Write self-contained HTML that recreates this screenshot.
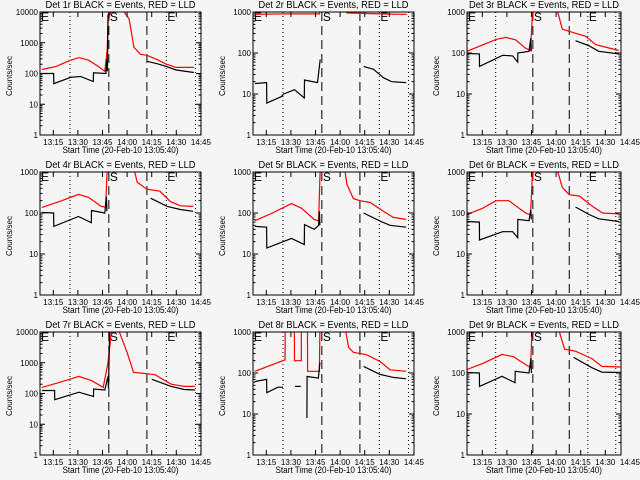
<!DOCTYPE html>
<html><head><meta charset="utf-8"><style>
html,body{margin:0;padding:0;background:#f5f5f5;}
svg{display:block;font-family:"Liberation Sans",sans-serif;}
</style></head><body>
<svg id="c" width="640" height="480" viewBox="0 0 640 480" xmlns="http://www.w3.org/2000/svg">
<rect x="0" y="0" width="640" height="480" fill="#f5f5f5"/>
</svg>
<script>
const detectorNames = ["1r","2r","3r","4r","5r","6r","7r","8r","9r"];
const yMaxValues = [10000,1000,1000,1000,1000,1000,10000,1000,1000];
const xTickLabels = ["13:15","13:30","13:45","14:00","14:15","14:30","14:45"];
const xTickMinutes = [9.33,24.33,39.33,54.33,69.33,84.33,99.33];
const dottedLineMinutes = [18.5,78,96];
const dashedLineMinutes = [42.5,66];
const red1 = [[1.2,135],[10,170],[18,260],[24,330],[30,270],[36,170],[40,118],[41.5,600],[42,4700],[43.5,10000],[49,12000],[52,10000],[55,5900],[58,720],[62,420],[66,390],[72,290],[78,200],[84,158],[95,158]];
const black1 = [[1.2,100],[8.4,100],[8.5,47],[19,75],[25,80],[32.9,55],[33,105],[40.7,100],[41.3,290],[41.6,120],[42,8000],[43.5,10000],[47,10000],null,[66,250],[72,210],[78,170],[84,130],[95,108]];
const red2 = [[1.2,880],[20,900],[41,900],[41.5,1200],null,[57,1200],[58,950],[70,920],[85,890],[95,880]];
const black2 = [[1.2,18],[8.4,19],[8.5,6],[17.4,8.6],[19,10],[25.6,12.7],[31.7,8],[31.8,22],[39.8,19],[41.5,70],null,[68.3,47],[74.4,40],[80.5,25],[85.6,20],[94.5,19]];
const red3 = [[0,110],[18.7,215],[25,240],[31.4,210],[37.8,130],[41,115],[42.4,1200],null,[58,1200],[61.5,380],[68,320],[76.6,255],[83,160],[98,115]];
const black3 = [[0,97],[8,95],[8.1,47],[23,88],[29.5,85],[32.7,60],[32.8,100],[40,110],[41.2,230],[41.5,110],null,[70,200],[78.8,150],[85,110],[98,95]];
const red4 = [[1.2,137],[12,190],[23.8,285],[30,240],[37.8,145],[40.5,140],[41.5,1200],null,[58,1200],[60,560],[66,380],[74,340],[80.5,190],[86.6,150],[94.5,145]];
const black4 = [[1.2,103],[8.4,100],[8.5,47],[23.8,82],[31.7,58],[31.8,115],[40,100],[41,250],[41.3,110],null,[68.3,230],[78.6,145],[86.6,122],[94.5,110]];
const red5 = [[1.2,65],[12,100],[23.8,170],[30,130],[37.8,70],[40.5,65],[41.5,1200],null,[56.6,1200],[58,500],[62,225],[66,200],[72.4,180],[80.5,110],[86.6,78],[94.5,70]];
const black5 = [[1.2,47],[8.4,45],[8.5,14],[23.8,24],[31.7,17],[31.8,52],[37.8,40],[40.5,50],[41,110],[41.3,50],null,[68.3,100],[78.6,63],[84.6,50],[94.5,45]];
const red6 = [[0,92],[10,130],[18.7,200],[27,200],[37.8,100],[41,90],[42.4,1200],null,[58,1200],[61.5,420],[66,280],[72.5,260],[81,145],[87.5,100],[98,95]];
const black6 = [[0,62],[8,60],[8.1,22],[23,35],[29.5,35],[32.7,25],[32.8,70],[40,65],[41.2,120],[41.5,70],null,[70,140],[78.8,92],[85,72],[98,62]];
const red7 = [[1.2,158],[12,230],[24,360],[32,260],[39,158],[42,1000],[44,10000],[48,14000],[53.7,2200],[57.7,490],[64,450],[71,410],[81,200],[89,170],[95.7,170]];
const black7 = [[1.2,125],[9,125],[9.1,63],[24,110],[33,80],[33.1,140],[40,130],[42,360],[42.3,150],[43,10000],[47,10000],null,[69,290],[81,170],[89,135],[95.7,130]];
const red8 = [[1.2,110],[10,150],[19.8,210],[19.9,5000],[25.5,5000],[25.6,200],[29.8,200],[29.9,5000],[33.6,5000],[33.7,110],[41,110],[41.5,5000],null,[57,1200],[59,420],[62,320],[70,280],[78.6,190],[84.6,120],[94.5,110]];
const black8 = [[1.2,62],[8.4,70],[8.5,33],[15.4,45],[18.6,45],null,[26,47],[29.5,47],null,[33.3,8],[33.4,82],[40.4,75],[41.3,180],null,[68.3,145],[78.6,92],[86.6,78],[94.5,72]];
const red9 = [[0,122],[10,170],[22.6,285],[30,250],[41,135],[42,1200],null,[59,1200],[63,380],[70,340],[80.6,225],[87,145],[99,140]];
const black9 = [[0,103],[8,100],[8.1,47],[22.6,83],[31,58],[31.1,110],[40,100],[41.3,230],[41.6,100],null,[68.8,240],[80.6,135],[87,105],[99,103]];
const redSeries = [red1,red2,red3,red4,red5,red6,red7,red8,red9];
const blackSeries = [black1,black2,black3,black4,black5,black6,black7,black8,black9];

const NS="http://www.w3.org/2000/svg";
const svg=document.getElementById('c');
const boxes=[[40,201],[253,414],[467,621]];
const X_MAX=99.4;
function mk(tag,attrs,parent){const e=document.createElementNS(NS,tag);for(const k in attrs)e.setAttribute(k,attrs[k]);(parent||svg).appendChild(e);return e;}

for(let p=0;p<9;p++){
  const col=p%3,row=Math.floor(p/3);
  const L=boxes[col][0],R=boxes[col][1],T=row*160+12,B=row*160+135;
  const ymax=yMaxValues[p];
  const decs=Math.log10(ymax);
  const xs=m=>L+(m/X_MAX)*(R-L);
  const ys=v=>B-(Math.log10(Math.max(v,1))/decs)*(B-T);
  const txs=m=>(col==2?L:L-2)+m*1.64;
  const g=mk('g',{});
  
  
  const clipId='clip'+p;
  const cp=mk('clipPath',{id:clipId},g);
  mk('rect',{x:L,y:T,width:R-L,height:B-T},cp);
  // title
  const t=mk('text',{x:(L+R)/2,y:T-4,'text-anchor':'middle','font-size':10,fill:'#000',textLength:150,lengthAdjust:'spacingAndGlyphs'},g);
  t.textContent='Det '+detectorNames[p]+' BLACK = Events, RED = LLD';
  
  
  // vertical lines
  dottedLineMinutes.forEach(m=>{const l=mk('line',{x1:xs(m),x2:xs(m),y1:T,y2:B,stroke:'#000','stroke-width':1,'stroke-dasharray':'1,3'},g);
    });
  dashedLineMinutes.forEach(m=>{const l=mk('line',{x1:xs(m),x2:xs(m),y1:T,y2:B,stroke:'#000','stroke-width':1,'stroke-dasharray':'9,5'},g);
    });
  // E S E labels
  [[L+1,'E'],[xs(dashedLineMinutes[0])+1,'S'],[xs(dottedLineMinutes[1])+1,'E']].forEach(a=>{
    const e=mk('text',{x:a[0],y:T+9,'font-size':12,fill:'#000'},g);e.textContent=a[1];
    });
  // series
  function draw(data,color,name){
    let segs=[],cur=[];
    data.forEach(pt=>{if(pt===null){if(cur.length)segs.push(cur);cur=[];}else cur.push(pt);});
    if(cur.length)segs.push(cur);
    segs.forEach(s=>{
      let d='';
      s.forEach((pt,i)=>{d+=(i?'L':'M')+xs(pt[0]).toFixed(1)+','+ys(pt[1]).toFixed(1);});
      const path=mk('path',{d:d,fill:'none',stroke:color,'stroke-width':1.2,'clip-path':'url(#'+clipId+')'},g);
      
      
    });
  }
  draw(redSeries[p],'#ff0000','red-lld-series');
  draw(blackSeries[p],'#000000','black-events-series');
  // box
  const bx=mk('rect',{x:L,y:T,width:R-L,height:B-T,fill:'none',stroke:'#000','stroke-width':1},g);
  
  // y ticks
  for(let d=0;d<=decs;d++){
    const v=Math.pow(10,d),y=ys(v);
    mk('line',{x1:L,x2:L+5,y1:y,y2:y,stroke:'#000'},g);
    mk('line',{x1:R,x2:R-5,y1:y,y2:y,stroke:'#000'},g);
    const lb=mk('text',{x:L-2,y:y+3,'text-anchor':'end','font-size':8,fill:'#000'},g);
    lb.textContent=String(v);
    
    if(d<decs){for(let k=2;k<10;k++){const yy=ys(v*k);
      mk('line',{x1:L,x2:L+2.5,y1:yy,y2:yy,stroke:'#000'},g);
      mk('line',{x1:R,x2:R-2.5,y1:yy,y2:yy,stroke:'#000'},g);}}
  }
  // x ticks
  xTickMinutes.forEach((m,i)=>{
    const x=txs(m);
    if(x<=R+0.5){mk('line',{x1:x,x2:x,y1:B,y2:B-5,stroke:'#000'},g);mk('line',{x1:x,x2:x,y1:T,y2:T+5,stroke:'#000'},g);}
    const lb=mk('text',{x:x,y:B+10,'text-anchor':'middle','font-size':8,fill:'#000'},g);
    lb.textContent=xTickLabels[i];
    
  });
  const xl=mk('text',{x:(L+R)/2,y:B+18,'text-anchor':'middle','font-size':9,fill:'#000',textLength:116,lengthAdjust:'spacingAndGlyphs'},g);
  xl.textContent='Start Time (20-Feb-10 13:05:40)';
  
  const yl=mk('text',{x:0,y:0,'text-anchor':'middle','font-size':8,fill:'#000',transform:'translate('+(L-28)+','+(T+64)+') rotate(-90)'},g);
  yl.textContent='Counts/sec';
  
}
</script>
</body></html>
